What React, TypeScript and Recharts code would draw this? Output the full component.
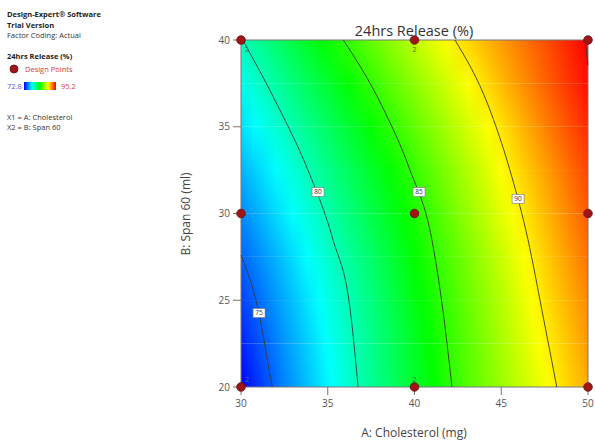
import { ComposedChart, XAxis, YAxis, Line, Scatter, ReferenceArea } from 'recharts';

// factor levels of the response grid
const cholesterol = [30, 32.5, 35, 37.5, 40, 42.5, 45, 47.5, 50];
const span60 = [20, 22.5, 25, 27.5, 30, 32.5, 35, 37.5, 40];

// 24hrs release (%) at each cholesterol level, one array per Span 60 level
const releaseB20 = [72.8, 75.7, 78.2, 80.7, 83.0, 85.3, 87.4, 89.4, 91.4];
const releaseB22 = [73.5, 76.1, 78.5, 80.9, 83.2, 85.5, 87.7, 89.8, 91.8];
const releaseB25 = [74.2, 76.6, 78.9, 81.2, 83.6, 85.8, 88.0, 90.2, 92.2];
const releaseB27 = [75.0, 77.2, 79.5, 81.7, 84.0, 86.2, 88.4, 90.6, 92.7];
const releaseB30 = [75.8, 78.0, 80.2, 82.4, 84.5, 86.8, 89.0, 91.1, 93.2];
const releaseB32 = [76.7, 78.8, 81.0, 83.1, 85.2, 87.4, 89.6, 91.6, 93.7];
const releaseB35 = [77.7, 79.8, 81.9, 84.0, 86.1, 88.2, 90.2, 92.3, 94.3];
const releaseB37 = [78.8, 80.9, 83.0, 85.1, 87.1, 89.1, 91.1, 93.0, 94.9];
const releaseB40 = [79.9, 82.1, 84.2, 86.2, 88.2, 90.1, 91.8, 93.4, 95.2];
const releaseRows = [releaseB20, releaseB22, releaseB25, releaseB27, releaseB30, releaseB32, releaseB35, releaseB37, releaseB40];

const releaseMin = 72.8;
const releaseMax = 95.2;

const xTicks = [30, 35, 40, 45, 50];
const yTicks = [20, 25, 30, 35, 40];

// contour lines
const contour75 = [{ A: 30, B: 27.6 }, { A: 31.0, B: 24.4 }, { A: 31.67, B: 20.7 }, { A: 31.8, B: 20 }];
const contour80 = [{ A: 30.1, B: 40 }, { A: 32.1, B: 36.25 }, { A: 33.86, B: 32.5 }, { A: 35.3, B: 28.5 }, { A: 36.3, B: 24.4 }, { A: 36.75, B: 20 }];
const contour85 = [{ A: 35.9, B: 40 }, { A: 38.1, B: 36.25 }, { A: 39.74, B: 32.5 }, { A: 41.0, B: 28.5 }, { A: 41.64, B: 24.4 }, { A: 42.16, B: 20 }];
const contour90 = [{ A: 42.33, B: 40 }, { A: 44.24, B: 36.25 }, { A: 45.5, B: 32.5 }, { A: 46.54, B: 28.5 }, { A: 47.35, B: 24.4 }, { A: 48.2, B: 20 }];
const contour95 = [{ A: 49.83, B: 40 }, { A: 50, B: 38.56 }];
const contours = [contour75, contour80, contour85, contour90, contour95];

const contourLabels = [
  { A: 31.04, B: 24.26, label: '75' },
  { A: 34.44, B: 31.24, label: '80' },
  { A: 40.26, B: 31.24, label: '85' },
  { A: 45.97, B: 30.84, label: '90' },
];

const designPoints = [
  { A: 30, B: 20, reps: 2 }, { A: 40, B: 20, reps: 2 }, { A: 50, B: 20, reps: 1 },
  { A: 30, B: 30, reps: 1 }, { A: 40, B: 30, reps: 1 }, { A: 50, B: 30, reps: 1 },
  { A: 30, B: 40, reps: 2 }, { A: 40, B: 40, reps: 2 }, { A: 50, B: 40, reps: 1 },
];

const rainbow = [[0, 0, 255], [0, 255, 255], [0, 255, 0], [255, 255, 0], [255, 0, 0]];
const FONT = "'Open Sans', 'Noto Sans', sans-serif";

function colorOf(v: number) {
  let t = ((v - releaseMin) / (releaseMax - releaseMin)) * 4;
  t = Math.max(0, Math.min(4, t));
  const k = Math.min(3, Math.floor(t));
  const f = t - k;
  const c = rainbow[k].map((a, i) => Math.round(a + (rainbow[k + 1][i] - a) * f));
  return `rgb(${c[0]},${c[1]},${c[2]})`;
}

// gradient stops along cholesterol for one row, adding stops where the colour ramp bends
function rowStops(row: number[]) {
  const span = cholesterol[cholesterol.length - 1] - cholesterol[0];
  const stops: { offset: number; color: string }[] = [];
  const keys = rainbow.map((_, k) => releaseMin + (k * (releaseMax - releaseMin)) / 4);
  row.forEach((v, j) => {
    stops.push({ offset: (cholesterol[j] - cholesterol[0]) / span, color: colorOf(v) });
    if (j < row.length - 1) {
      const w = row[j + 1];
      keys.forEach((kv) => {
        if ((kv > v && kv < w) || (kv < v && kv > w)) {
          const f = (kv - v) / (w - v);
          const a = cholesterol[j] + f * (cholesterol[j + 1] - cholesterol[j]);
          stops.push({ offset: (a - cholesterol[0]) / span, color: colorOf(kv) });
        }
      });
    }
  });
  return stops;
}

const DesignDot = (props: any) => {
  const { cx, cy, payload } = props;
  const dx = payload.A === 30 ? 6 : 0;
  const dy = payload.B === 40 ? 12 : -5;
  return (
    <g>
      <circle cx={cx} cy={cy} r={4.3} fill="#a01515" stroke="#6b0a0a" strokeWidth={0.8} />
      {payload.reps > 1 && (
        <text x={cx + dx} y={cy + dy} fontSize={7.5} fill="#4f7040" textAnchor="middle" fontFamily={FONT}>
          {payload.reps}
        </text>
      )}
    </g>
  );
};

const ContourTag = (props: any) => {
  const { cx, cy, payload } = props;
  return (
    <g>
      <rect x={cx - 6} y={cy - 4.5} width={12} height={9} fill="#fff" stroke="#777" strokeWidth={0.6} />
      <text x={cx} y={cy + 2.4} fontSize={6.5} fill="#333" textAnchor="middle" fontFamily={FONT}>
        {payload.label}
      </text>
    </g>
  );
};

export default function App() {
  const bands = span60.slice(0, -1).map((b, i) => ({ lo: b, hi: span60[i + 1], i }));
  return (
    <div style={{ position: 'absolute', left: 0, top: 0, width: 595, height: 441, background: '#fff' }}>
      <svg width={0} height={0} style={{ position: 'absolute' }}>
        <defs>
          {releaseRows.map((row, i) => (
            <linearGradient key={i} id={`row${i}`} x1="0" y1="0" x2="1" y2="0">
              {rowStops(row).map((s, j) => (
                <stop key={j} offset={s.offset} stopColor={s.color} />
              ))}
            </linearGradient>
          ))}
          <linearGradient id="fadeGrad" x1="0" y1="0" x2="0" y2="1">
            <stop offset="0" stopColor="#fff" stopOpacity={1} />
            <stop offset="1" stopColor="#fff" stopOpacity={0} />
          </linearGradient>
          <mask id="fadeUp" maskContentUnits="objectBoundingBox" style={{ maskType: 'alpha' } as any}>
            <rect x={0} y={0} width={1} height={1} fill="url(#fadeGrad)" />
          </mask>
          <linearGradient id="legendGrad" x1="0" y1="0" x2="1" y2="0">
            {rainbow.map((c, k) => (
              <stop key={k} offset={k / 4} stopColor={`rgb(${c[0]},${c[1]},${c[2]})`} />
            ))}
          </linearGradient>
        </defs>
      </svg>

      <div style={{ position: 'absolute', left: 0, top: 0 }}>
        <ComposedChart width={595} height={441} margin={{ top: 40, right: 7, bottom: 24, left: 181 }}>
          <XAxis
            type="number"
            dataKey="A"
            domain={[30, 50]}
            ticks={xTicks}
            height={30}
            tickSize={8}
            tickMargin={5}
            axisLine={false}
            tickLine={{ stroke: '#777' }}
            tick={{ fontSize: 10, fill: '#555', fontFamily: FONT }}
          />
          <YAxis
            type="number"
            dataKey="B"
            domain={[20, 40]}
            ticks={yTicks}
            width={60}
            tickSize={8}
            tickMargin={3}
            axisLine={false}
            tickLine={{ stroke: '#777' }}
            tick={{ fontSize: 10, fill: '#555', fontFamily: FONT }}
          />
          {bands.map((band) => (
            <ReferenceArea
              key={`base${band.i}`}
              x1={30}
              x2={50}
              y1={band.lo}
              y2={band.hi}
              shape={(p: any) => (
                <g>
                  <rect x={p.x} y={p.y} width={p.width} height={p.height} fill={`url(#row${band.i})`} />
                  <rect x={p.x} y={p.y} width={p.width} height={p.height} fill={`url(#row${band.i + 1})`} mask="url(#fadeUp)" />
                </g>
              )}
            />
          ))}
          <ReferenceArea x1={30} x2={50} y1={20} y2={40} fill="none" fillOpacity={0} stroke="#777" strokeWidth={1} />
          {contours.map((c, i) => (
            <Line
              key={i}
              data={c}
              dataKey="B"
              type="monotone"
              stroke="#3a3a3a"
              strokeWidth={0.9}
              dot={false}
              activeDot={false}
              isAnimationActive={false}
            />
          ))}
          <Scatter data={contourLabels} shape={<ContourTag />} isAnimationActive={false} />
          <Scatter data={designPoints} shape={<DesignDot />} isAnimationActive={false} />
        </ComposedChart>
      </div>

      <svg width={595} height={441} style={{ position: 'absolute', left: 0, top: 0, pointerEvents: 'none' }} fontFamily={FONT}>
        <text x={7} y={17} fontSize={7.5} fontWeight="bold" fill="#222">Design-Expert® Software</text>
        <text x={7} y={28} fontSize={7.5} fontWeight="bold" fill="#222">Trial Version</text>
        <text x={7} y={38} fontSize={7.5} fill="#333">Factor Coding: Actual</text>
        <text x={7} y={59} fontSize={7.5} fontWeight="bold" fill="#222">24hrs Release (%)</text>
        <circle cx={14} cy={69} r={4} fill="#a01515" stroke="#6b0a0a" strokeWidth={0.8} />
        <text x={25} y={72} fontSize={7.5} fill="#d03a3a">Design Points</text>
        <text x={7} y={89} fontSize={7.5} fill="#5a5ae0">{releaseMin}</text>
        <rect x={24} y={82} width={32} height={8} fill="url(#legendGrad)" />
        <text x={61} y={89} fontSize={7.5} fill="#e04040">{releaseMax}</text>
        <text x={7} y={120} fontSize={7.5} fill="#333">X1 = A: Cholesterol</text>
        <text x={7} y={130} fontSize={7.5} fill="#333">X2 = B: Span 60</text>

        <text x={414} y={36} fontSize={14.5} fill="#333" textAnchor="middle">24hrs Release (%)</text>
        <text x={414} y={437} fontSize={12} fill="#444" textAnchor="middle">A: Cholesterol (mg)</text>
        <text x={190} y={214} fontSize={12} fill="#444" textAnchor="middle" transform="rotate(-90 190 214)">
          B: Span 60 (ml)
        </text>
      </svg>
    </div>
  );
}
